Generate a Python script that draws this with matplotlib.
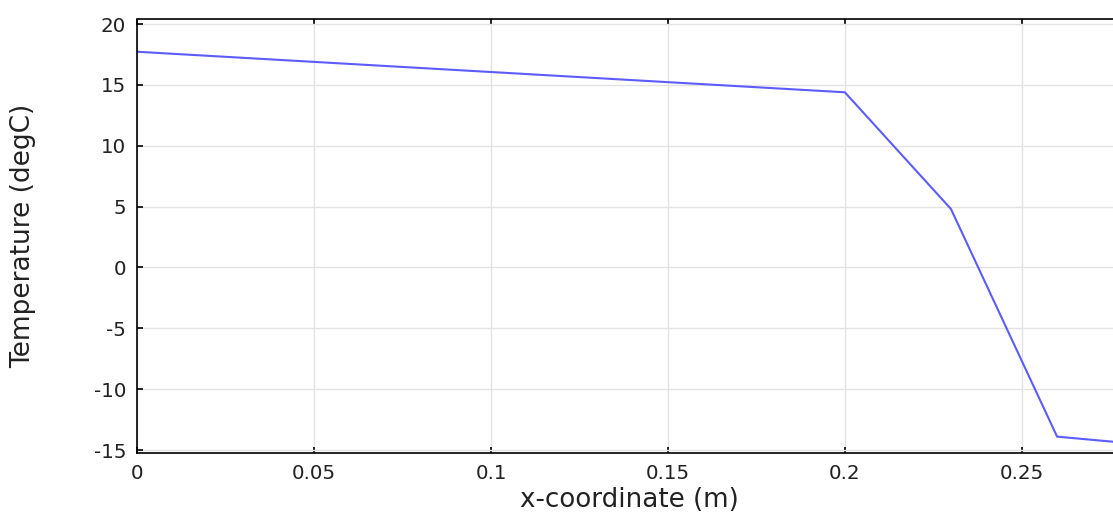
import matplotlib
matplotlib.use("Agg")
import matplotlib.pyplot as plt

plt.rcParams["axes.unicode_minus"] = False

x_m = [0.0, 0.2, 0.23, 0.26, 0.28]
temp_c = [17.72, 14.39, 4.8, -13.9, -14.43]
x_ticks = [0, 0.05, 0.1, 0.15, 0.2, 0.25]
x_tick_labels = ["0", "0.05", "0.1", "0.15", "0.2", "0.25"]
y_ticks = [20, 15, 10, 5, 0, -5, -10, -15]

W, H = 1113, 515
fig = plt.figure(figsize=(W / 100, H / 100), dpi=100)
left, right, top, bottom = 137.3, 1113, 19.5, 452.7
ax = fig.add_axes([left / W, 1 - bottom / H, (right - left) / W, (bottom - top) / H])

ax.plot(x_m, temp_c, color="#5c5cff", lw=1.5, solid_joinstyle="miter")
ax.set_xlim(0, 0.2758)
ax.set_ylim(-15.22, 20.37)
ax.set_xticks(x_ticks)
ax.set_xticklabels(x_tick_labels)
ax.set_yticks(y_ticks)
ax.grid(True, color="#e3e3e3", lw=1)
ax.set_axisbelow(True)
ax.spines["right"].set_visible(False)
for s in ["left", "top", "bottom"]:
    ax.spines[s].set_linewidth(1.2)
ax.tick_params(direction="in", top=True, right=False, length=4, width=1.2,
               labelsize=14.3, colors="black", labelcolor="#222222")
ax.tick_params(axis="x", pad=8)
ax.tick_params(axis="y", pad=8)
ax.set_xlabel("x-coordinate (m)", fontsize=18.8, color="#222222")
ax.set_ylabel("Temperature (degC)", fontsize=19, color="#222222")
ax.xaxis.set_label_coords((629 - left) / (right - left), -(487 - bottom) / (bottom - top))
ax.yaxis.set_label_coords(-(left - 36) / (right - left), 0.5)

fig.savefig("out.png", dpi=100)
